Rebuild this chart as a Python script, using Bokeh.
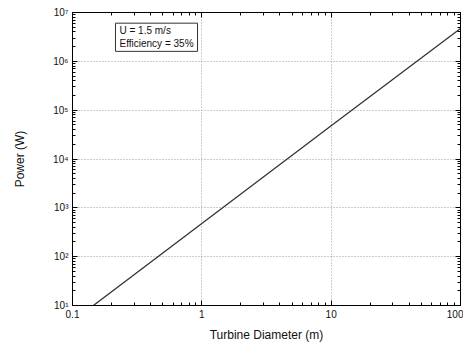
from bokeh.plotting import figure
from bokeh.models import LogAxis, FixedTicker, Label, ColumnDataSource
from bokeh.embed import file_html
from bokeh.resources import INLINE

# data
diameter = [0.145, 1.0, 10.0, 100.0]
power = [10.0, 480.0, 4.8e4, 4.7e6]

x_ticks = [0.1, 1, 10, 100]
x_tick_labels = ["0.1", "1", "10", "100"]
y_ticks = [1e1, 1e2, 1e3, 1e4, 1e5, 1e6, 1e7]
y_tick_labels = ["10¹", "10²", "10³", "10⁴", "10⁵", "10⁶", "10⁷"]
annotation = "U = 1.5 m/s\nEfficiency = 35%"

x_minor = [m * d for d in x_ticks[:-1] for m in range(2, 10)]
y_minor = [m * d for d in y_ticks[:-1] for m in range(2, 10)]

p = figure(width=463, height=344, x_axis_type="log", y_axis_type="log",
           x_range=(0.1, 100), y_range=(10, 1e7),
           output_backend="svg", toolbar_location=None,
           min_border_left=72, min_border_right=3, min_border_top=12, min_border_bottom=39)

src = ColumnDataSource(dict(x=diameter, y=power))
p.line("x", "y", source=src, line_color="#333333", line_width=1.3)

FONT = "Liberation Sans"

def style_axis(ax, ticks, minor, labels=None, show=True):
    ax.ticker = FixedTicker(ticks=ticks, minor_ticks=minor)
    ax.axis_line_color = "black"
    ax.major_tick_in = 5
    ax.major_tick_out = 0
    ax.minor_tick_in = 3
    ax.minor_tick_out = 0
    ax.major_tick_line_color = "black"
    ax.minor_tick_line_color = "black"
    ax.major_label_text_font = FONT
    ax.major_label_text_font_size = "10px"
    ax.major_label_text_color = "#111111" if show else None
    ax.major_label_standoff = 4 if show else 0
    if labels is not None:
        ax.major_label_overrides = {t: l for t, l in zip(ticks, labels)}

style_axis(p.xaxis[0], x_ticks, x_minor, x_tick_labels)
style_axis(p.yaxis[0], y_ticks, y_minor, y_tick_labels)
p.xaxis[0].axis_label = "Turbine Diameter (m)"
p.yaxis[0].axis_label = "Power (W)"
for ax in (p.xaxis[0], p.yaxis[0]):
    ax.axis_label_text_font = FONT
    ax.axis_label_text_font_size = "12px"
    ax.axis_label_text_font_style = "normal"
    ax.axis_label_text_color = "#111111"
p.xaxis[0].axis_label_standoff = 7
p.yaxis[0].axis_label_standoff = 23

top = LogAxis()
right = LogAxis()
style_axis(top, x_ticks, x_minor, show=False)
style_axis(right, y_ticks, y_minor, show=False)
top.major_label_text_font_size = "0px"
right.major_label_text_font_size = "0px"
p.add_layout(top, "above")
p.add_layout(right, "right")

p.xgrid.ticker = FixedTicker(ticks=x_ticks)
p.ygrid.ticker = FixedTicker(ticks=y_ticks)
for g in (p.xgrid[0], p.ygrid[0]):
    g.grid_line_color = "#9a9a9a"
    g.grid_line_dash = "1 2"
    g.grid_line_width = 1

p.outline_line_color = "black"
p.background_fill_color = "white"
p.border_fill_color = "white"

lab = Label(x=0.215, y=1.6e6, text=annotation, text_font=FONT,
            text_font_size="10px", text_color="#111111",
            border_line_color="#333333", border_line_width=1,
            background_fill_color="white",
            padding=dict(left=4, right=4, top=2, bottom=2))
p.add_layout(lab)

open("out.html", "w").write(file_html(p, INLINE))
